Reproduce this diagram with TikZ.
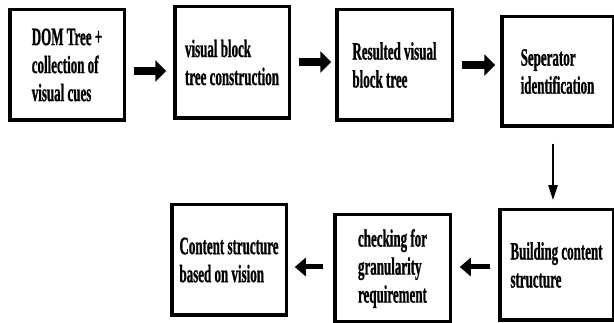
\documentclass[tikz,border=0pt]{standalone}
\usepackage{fontspec}
\newfontfamily\flowfont[FakeStretch=0.52,FakeBold=0.8]{Liberation Serif}
\usetikzlibrary{arrows.meta}
\begin{document}
\begin{tikzpicture}[x=1pt,y=-1pt,
    flowbox/.style={shape=rectangle,draw,line width=3.5pt,align=left,inner sep=0pt,font={\flowfont\bfseries\fontsize{25pt}{28pt}\selectfont}},
    fatarrow/.style={line width=8pt,-{Triangle[length=11pt,width=21pt]}},
    leftarrow/.style={line width=5pt,-{Triangle[length=11pt,width=18pt]}},
    downarrow/.style={line width=2pt,-{Triangle[length=15pt,width=9pt]}}]
    \useasboundingbox (0,0) rectangle (614,323);
    \node[flowbox,minimum width=114.5pt,minimum height=110.5pt] (dom)   at (67,65)      {DOM Tree +\\collection of\\visual cues};
    \node[flowbox,minimum width=114.5pt,minimum height=111.5pt] (vbt)   at (232,62.5)   {visual block\\tree construction};
    \node[flowbox,minimum width=115.5pt,minimum height=110.5pt] (res)   at (394.5,65)   {Resulted visual\\block tree};
    \node[flowbox,minimum width=111.5pt,minimum height=109.5pt] (sep)   at (557.5,71.5) {Seperator\\identification};
    \node[flowbox,minimum width=113.5pt,minimum height=110.5pt] (build) at (556.5,265)  {Building content\\structure};
    \node[flowbox,minimum width=115.5pt,minimum height=107.5pt] (gran)  at (392.5,268.5) {checking for\\granularity\\requirement};
    \node[flowbox,minimum width=114.5pt,minimum height=110.5pt] (cont)  at (229,260)    {Content structure\\based on  vision};
    \draw[fatarrow,shorten <=7.75pt,shorten >=6.75pt] ([yshift=-6pt]dom.east) -- ([yshift=-8.5pt]vbt.west);
    \draw[fatarrow,shorten <=7.75pt,shorten >=3.75pt] ([yshift=0.5pt]vbt.east) -- ([yshift=3pt]res.west);
    \draw[fatarrow,shorten <=7.75pt,shorten >=4.75pt] (res.east) -- ([yshift=6.5pt]sep.west);
    \draw[downarrow,shorten <=15.75pt,shorten >=7.75pt] ([xshift=-4.5pt]sep.south) -- ([xshift=-3.5pt]build.north);
    \draw[leftarrow,shorten <=7.75pt,shorten >=7.75pt] ([yshift=-2pt]build.west) -- ([yshift=1.5pt]gran.east);
    \draw[leftarrow,shorten <=9.75pt,shorten >=6.75pt] ([yshift=1.5pt]gran.west) -- ([yshift=-7pt]cont.east);
\end{tikzpicture}
\end{document}
